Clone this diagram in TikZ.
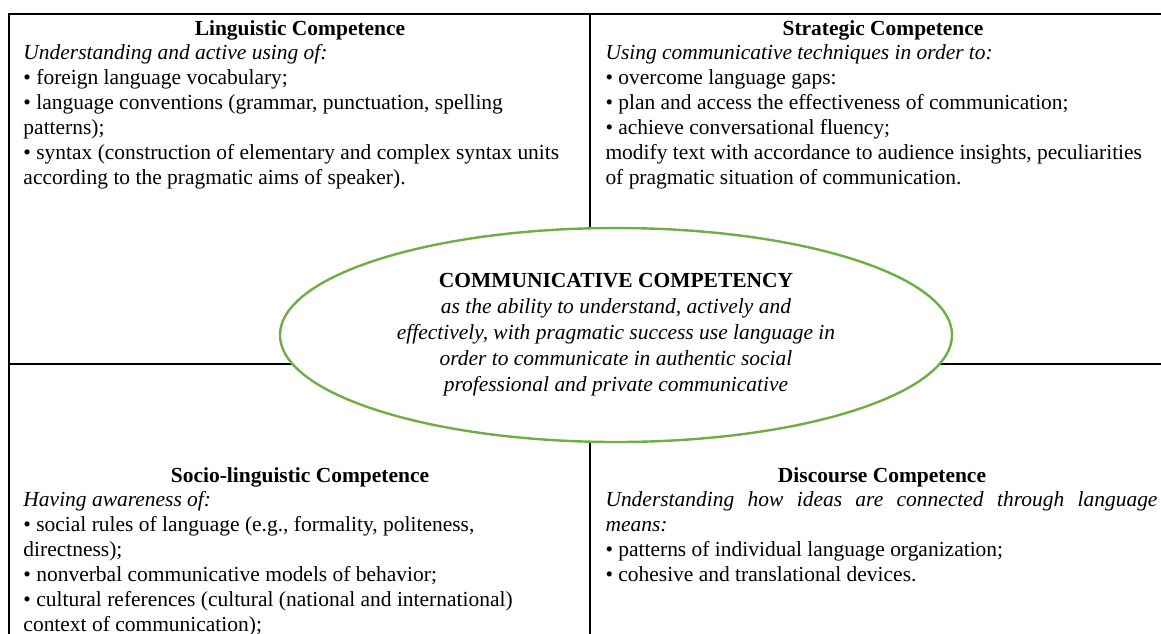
\documentclass[tikz,border=0pt]{standalone}
\usepackage{fontspec}
\setmainfont{Liberation Serif}
\usetikzlibrary{shapes.geometric}
\tikzset{every picture/.style={line width=0.75pt}}
\definecolor{ringgreen}{RGB}{112,173,71}
\tikzset{
  gridline/.style={line width=1.5pt},
  cellhead/.style={anchor=base, inner sep=0pt, font=\fontsize{16.1}{18.75}\selectfont\bfseries},
  cellbody/.style={anchor=north west, inner sep=0pt, align=left, font=\fontsize{16.1}{18.75}\selectfont},
  corering/.style={ellipse, draw=ringgreen, line width=1.8pt, fill=white, inner sep=0pt,
    minimum width=504pt, minimum height=160.5pt, align=center, font=\fontsize{16.1}{19.5}\selectfont},
}

\begin{document}
\begin{tikzpicture}[x=0.75pt,y=0.75pt,yscale=-1,xscale=1]
\useasboundingbox (0,0) rectangle (1161,633);
\clip (0,0) rectangle (1161,633);

%Straight Lines
\draw [gridline] (1161,14) -- (9,14) -- (9,640) ;
\draw [gridline] (590,14) -- (590,640) ;
\draw [gridline] (9,364) -- (1161,364) ;

%Shape: Ellipse
\node (core) [corering] at (616,335) {\textbf{COMMUNICATIVE COMPETENCY}\\
  \textit{as the ability to understand, actively and}\\
  \textit{effectively, with pragmatic success use language in}\\
  \textit{order to communicate in authentic social}\\
  \textit{professional and private communicative}};

% Text Node
\node (lingHead) [cellhead] at (300,35) {Linguistic Competence};
% Text Node
\node (lingBody) [cellbody] at (23,44) {\textit{Understanding and active using of:}\\
  • foreign language vocabulary;\\
  • language conventions (grammar, punctuation, spelling\\
  patterns);\\
  • syntax (construction of elementary and complex syntax units\\
  according to the pragmatic aims of speaker).};

% Text Node
\node (stratHead) [cellhead] at (883,35) {Strategic Competence};
% Text Node
\node (stratBody) [cellbody] at (605,44) {\textit{Using communicative techniques in order to:}\\
  • overcome language gaps:\\
  • plan and access the effectiveness of communication;\\
  • achieve conversational fluency;\\
  modify text with accordance to audience insights, peculiarities\\
  of pragmatic situation of communication.};

% Text Node
\node (socioHead) [cellhead] at (300,482) {Socio-linguistic Competence};
% Text Node
\node (socioBody) [cellbody] at (23,491) {\textit{Having awareness of:}\\
  • social rules of language (e.g., formality, politeness,\\
  directness);\\
  • nonverbal communicative models of behavior;\\
  • cultural references (cultural (national and international)\\
  context of communication);};

% Text Node
\node (discHead) [cellhead] at (882,482) {Discourse Competence};
% Text Node
\node (discBody) [cellbody] at (605,491) {\makebox[414pt][s]{\itshape Understanding how ideas are connected through language}\\
  \textit{means:}\\
  • patterns of individual language organization;\\
  • cohesive and translational devices.};

\end{tikzpicture}
\end{document}
